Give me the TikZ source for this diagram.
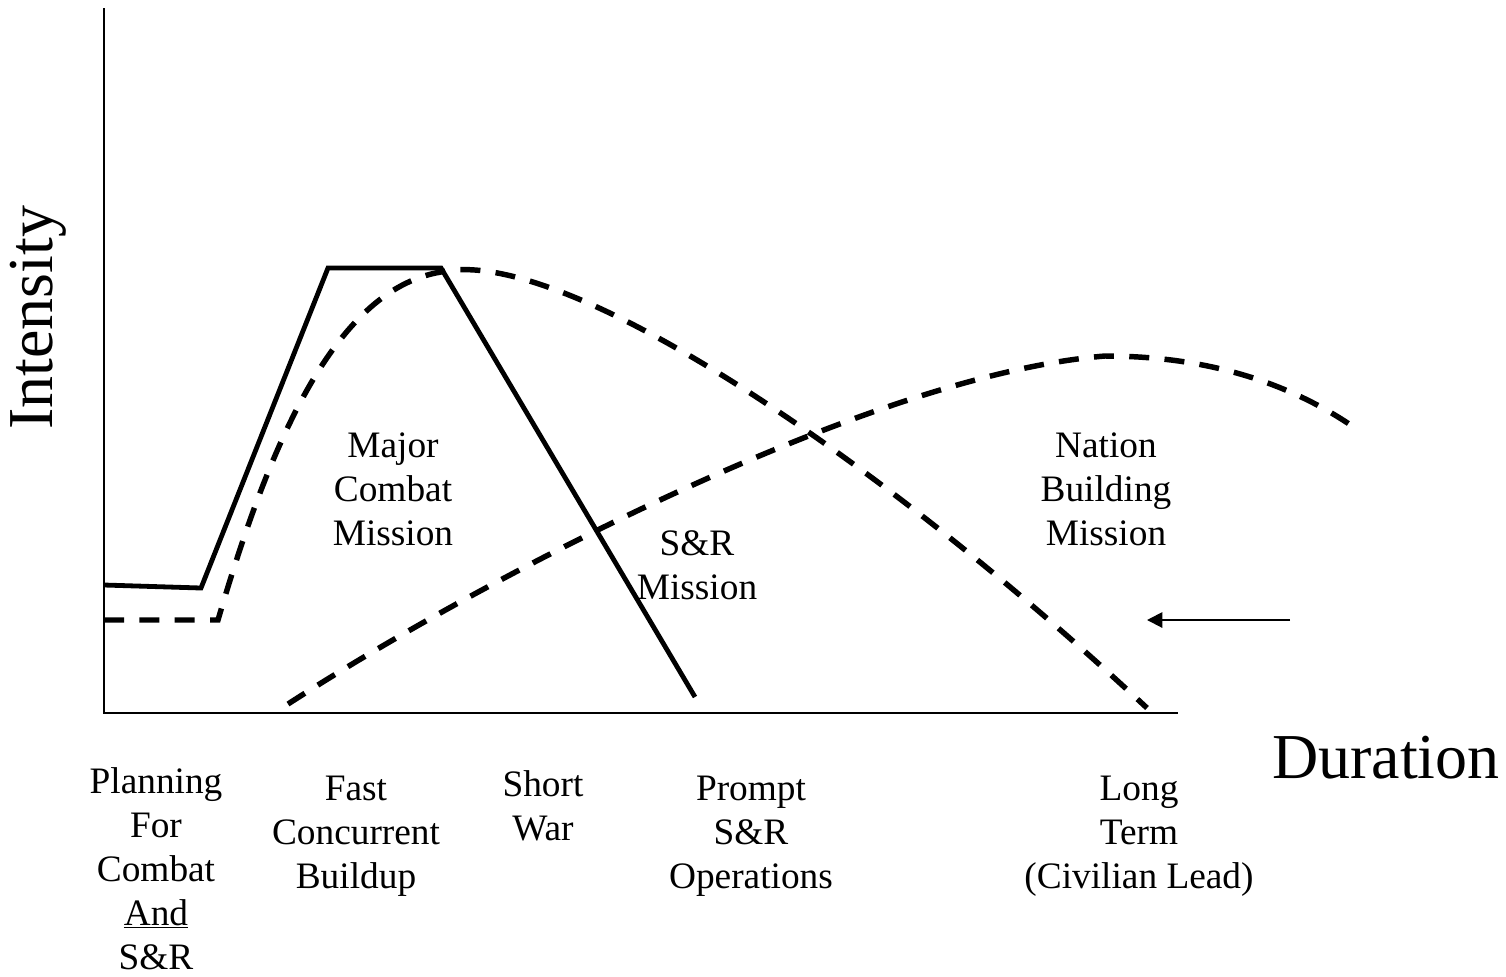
\documentclass[tikz,border=0pt]{standalone}
\usepackage{fontspec}
\setmainfont{Liberation Serif}
\usetikzlibrary{arrows.meta}

\tikzset{every picture/.style={line width=0.75pt}}
\tikzset{
  lbl/.style={anchor=north,inner sep=0pt,align=center,font=\fontsize{28}{33}\selectfont},
  axislbl/.style={inner sep=0pt,font=\fontsize{48}{56}\selectfont},
  solidline/.style={line width=3.6pt,line join=miter},
  dashline/.style={line width=4.1pt,dash pattern=on 15pt off 11.5pt}
}

\begin{document}
\begin{tikzpicture}[x=0.75pt,y=0.75pt,yscale=-1,xscale=1]
\useasboundingbox (0,0) rectangle (1506,976);

%Axes
\coordinate (top) at (104,8);
\coordinate (orig) at (104,713);
\coordinate (right) at (1178,713);
\draw [line width=1.5pt] (top) -- (orig) -- (right) ;

%Major combat (solid)
\draw [solidline] (104,585) -- (201,588) -- (328,268) -- (441,268) -- (695,697) ;
%S&R mission (dashed)
\draw [dashline] (104,620) -- (218,620) .. controls (265,460) and (330,290) .. (441,272) .. controls (560,245) and (870,450) .. (1147,708) ;
%Nation building (dashed)
\draw [dashline] (288,704) .. controls (480,580) and (870,375) .. (1105,356) .. controls (1220,356) and (1300,390) .. (1355,428) ;

%Arrow
\coordinate (arrS) at (1290,620);
\coordinate (arrE) at (1147,620);
\draw [line width=1.5pt,-{Triangle[length=11.5pt,width=11.5pt]}] (arrS) -- (arrE) ;

% Text Node
\node [lbl] (major) at (393,432) {Major\\Combat\\Mission};
% Text Node
\node [lbl] (snr) at (697,530) {S\&R\\Mission};
% Text Node
\node [lbl] (nation) at (1106,432) {Nation\\Building\\Mission};
% Text Node
\node [lbl] (plan) at (156,767) {Planning\\For\\Combat\\\underline{And}\\S\&R};
% Text Node
\node [lbl] (fast) at (356,776) {Fast\\Concurrent\\Buildup};
% Text Node
\node [lbl] (short) at (543,770) {Short\\War};
% Text Node
\node [lbl] (prompt) at (751,776) {Prompt\\S\&R\\Operations};
% Text Node
\node [lbl] (long) at (1139,776) {Long\\Term\\(Civilian Lead)};
% Text Node
\node [axislbl] (dur) at (1386,758) {Duration};
% Text Node
\node [axislbl,rotate=90] (inten) at (38,318) {Intensity};

\end{tikzpicture}
\end{document}
